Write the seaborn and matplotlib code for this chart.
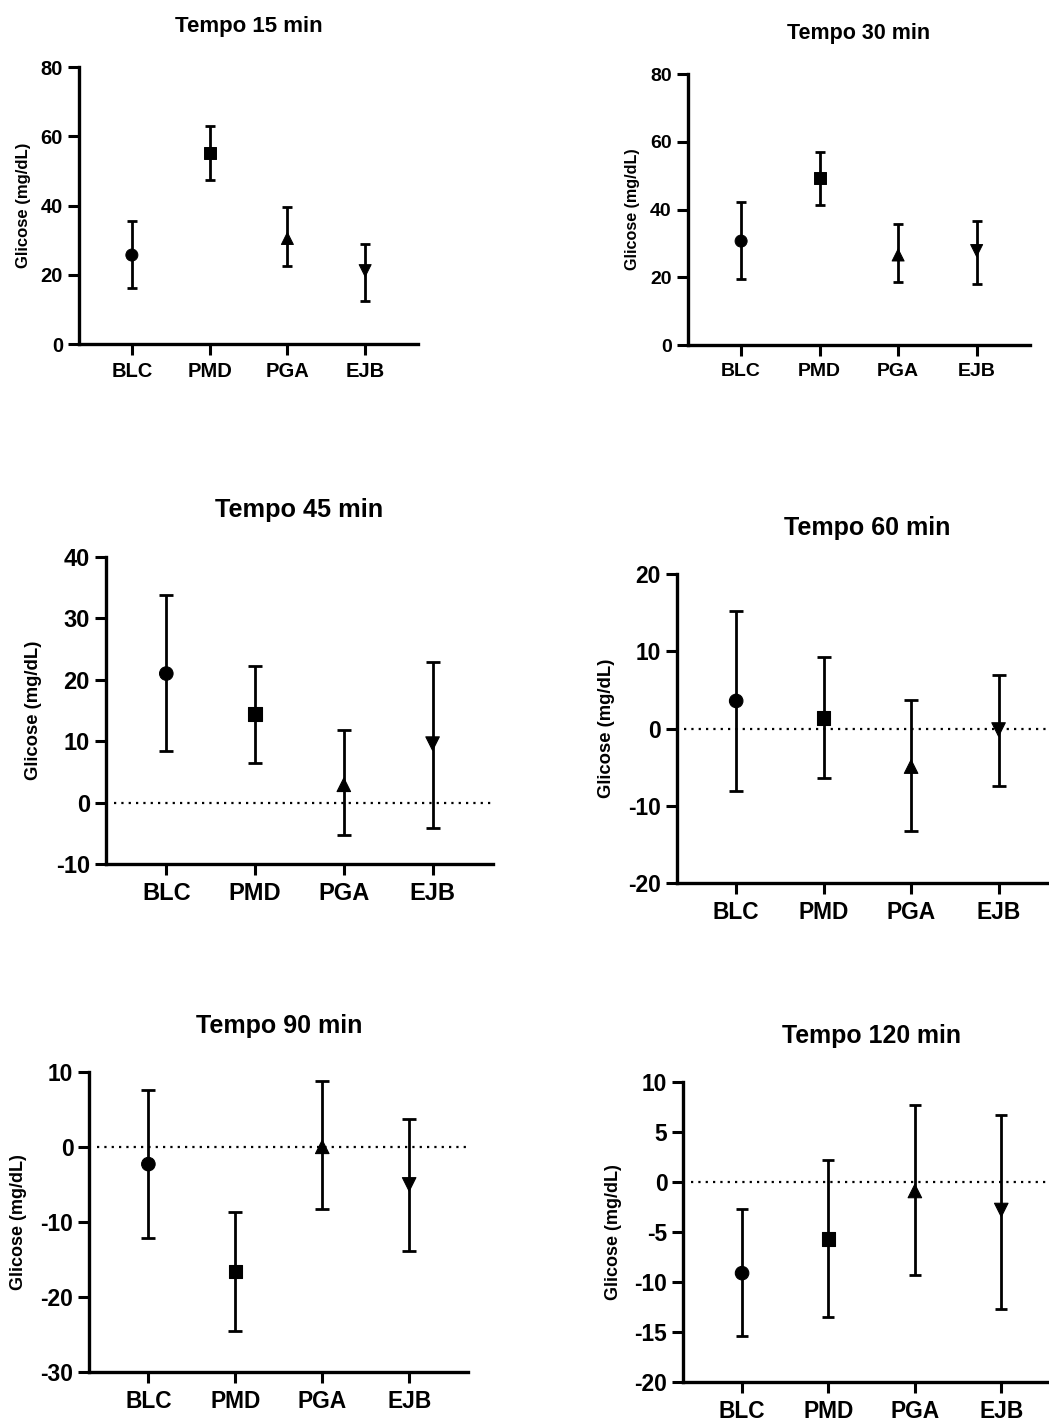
import matplotlib
import seaborn as sns
import matplotlib.pyplot as plt
matplotlib.use("Agg")

groups = ['BLC', 'PMD', 'PGA', 'EJB']
marker_list = ['o', 's', '^', 'v']

mean_15 = [25.7, 55.2, 30.5, 21.2]
low_15 = [16.1, 47.3, 22.6, 12.5]
high_15 = [35.5, 63.1, 39.6, 29.0]

mean_30 = [30.7, 49.2, 26.6, 27.9]
low_30 = [19.4, 41.4, 18.6, 17.9]
high_30 = [42.1, 57.1, 35.6, 36.5]

mean_45 = [21.0, 14.4, 2.9, 9.6]
low_45 = [8.4, 6.5, -5.3, -4.2]
high_45 = [33.8, 22.3, 11.8, 22.9]

mean_60 = [3.6, 1.4, -4.9, -0.1]
low_60 = [-8.0, -6.4, -13.2, -7.4]
high_60 = [15.2, 9.3, 3.7, 7.0]

mean_90 = [-2.3, -16.6, 0.0, -5.0]
low_90 = [-12.1, -24.5, -8.3, -13.9]
high_90 = [7.5, -8.7, 8.8, 3.7]

mean_120 = [-9.1, -5.7, -0.9, -2.8]
low_120 = [-15.4, -13.5, -9.3, -12.7]
high_120 = [-2.7, 2.2, 7.7, 6.7]

sns.set_style('ticks')
plt.rcParams['font.family'] = ['Liberation Sans', 'DejaVu Sans']
plt.rcParams['axes.unicode_minus'] = False
plt.rcParams['text.color'] = 'black'
plt.rcParams['axes.labelcolor'] = 'black'

fig = plt.figure(figsize=(10.49, 14.2), dpi=100)

panels = [
    dict(title='Tempo 15 min', mean=mean_15, low=low_15, high=high_15,
         pos=[0.0753, 0.7577, 0.3232, 0.1951], ylim=(0, 80), yticks=[0, 20, 40, 60, 80],
         zero=False, fs=14.5, tfs=16, lfs=12, pad=25, lpad=7, ms=75, cap=3.8),
    dict(title='Tempo 30 min', mean=mean_30, low=low_30, high=high_30,
         pos=[0.6556, 0.7570, 0.3263, 0.1908], ylim=(0, 80), yticks=[0, 20, 40, 60, 80],
         zero=False, fs=14, tfs=15.5, lfs=11.6, pad=25, lpad=7, ms=75, cap=3.8),
    dict(title='Tempo 45 min', mean=mean_45, low=low_45, high=high_45,
         pos=[0.1010, 0.3915, 0.3689, 0.2164], ylim=(-10, 40), yticks=[-10, 0, 10, 20, 30, 40],
         zero=True, fs=17, tfs=18.2, lfs=13.3, pad=29, lpad=10, ms=95, cap=5),
    dict(title='Tempo 60 min', mean=mean_60, low=low_60, high=high_60,
         pos=[0.6451, 0.3780, 0.3635, 0.2176], ylim=(-20, 20), yticks=[-20, -10, 0, 10, 20],
         zero=True, fs=16.4, tfs=18, lfs=13.3, pad=28, lpad=9, ms=95, cap=4.8),
    dict(title='Tempo 90 min', mean=mean_90, low=low_90, high=high_90,
         pos=[0.0851, 0.0336, 0.3613, 0.2117], ylim=(-30, 10), yticks=[-30, -20, -10, 0, 10],
         zero=True, fs=16.4, tfs=18, lfs=13, pad=28, lpad=10, ms=95, cap=4.8),
    dict(title='Tempo 120 min', mean=mean_120, low=low_120, high=high_120,
         pos=[0.6514, 0.0265, 0.3591, 0.2117], ylim=(-20, 10), yticks=[-20, -15, -10, -5, 0, 5, 10],
         zero=True, fs=16.4, tfs=17.9, lfs=13, pad=28, lpad=9, ms=95, cap=4.6),
]

for p in panels:
    ax = fig.add_axes(p['pos'])
    yerr = [[m - lo for m, lo in zip(p['mean'], p['low'])],
            [hi - m for m, hi in zip(p['mean'], p['high'])]]
    ax.errorbar(groups, p['mean'], yerr=yerr, fmt='none', ecolor='black',
                elinewidth=2.0, capsize=p['cap'], capthick=2.0, zorder=2)
    sns.scatterplot(x=groups, y=p['mean'], style=groups, markers=marker_list,
                    color='black', edgecolor='black', s=p['ms'], legend=False,
                    ax=ax, zorder=3)
    if p['zero']:
        ax.axhline(0, xmin=0.02, xmax=1, color='black', lw=1.6,
                   ls=(0, (1, 2.3)), zorder=1)
    ax.set_xlim(-0.68, 3.68)
    ax.set_ylim(*p['ylim'])
    ax.set_yticks(p['yticks'])
    sns.despine(ax=ax)
    for s in ['left', 'bottom']:
        ax.spines[s].set_linewidth(2.4)
        ax.spines[s].set_color('black')
    ax.tick_params(axis='both', width=2.2, length=8, color='black',
                   labelsize=p['fs'], labelcolor='black')
    ax.tick_params(axis='y', pad=3.5)
    ax.tick_params(axis='x', pad=5)
    for lab in ax.get_xticklabels() + ax.get_yticklabels():
        lab.set_fontweight('bold')
    ax.set_ylabel('Glicose (mg/dL)', fontsize=p['lfs'], fontweight='bold',
                  labelpad=p['lpad'])
    ax.set_title(p['title'], fontsize=p['tfs'], fontweight='bold', pad=p['pad'])

fig.savefig('out.png', dpi=100, facecolor='white')
